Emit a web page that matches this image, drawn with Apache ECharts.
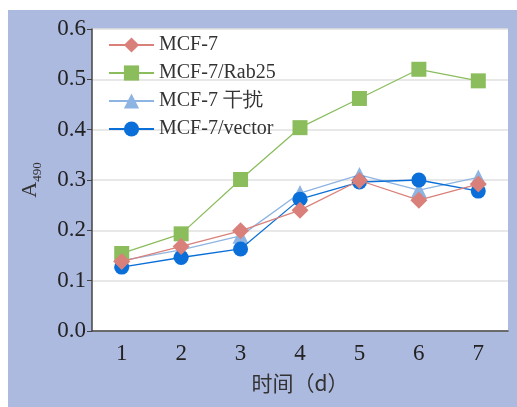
<!DOCTYPE html>
<html><head><meta charset="utf-8">
<script src="https://cdn.jsdelivr.net/npm/echarts@6/dist/echarts.min.js"></script>
<style>
html,body{margin:0;padding:0;background:#fff;width:517px;height:407px;overflow:hidden}
#c{position:absolute;left:8px;top:10px;width:509px;height:397px;background:#adbadf}
</style></head><body>
<div id="c"></div>
<script>
const categories = ['1','2','3','4','5','6','7'];
const yTicks = [0, 0.1, 0.2, 0.3, 0.4, 0.5, 0.6];
const seriesNames = ['MCF-7','MCF-7/Rab25','MCF-7 干扰','MCF-7/vector'];
const mcf7 = [0.138, 0.168, 0.199, 0.240, 0.299, 0.260, 0.292];
const rab25 = [0.154, 0.193, 0.301, 0.404, 0.462, 0.520, 0.497];
const interfere = [0.140, 0.161, 0.189, 0.274, 0.310, 0.280, 0.305];
const vector = [0.127, 0.146, 0.163, 0.262, 0.296, 0.300, 0.278];

const serif = '"Liberation Serif","Times New Roman",serif';
const colors = ['#d9807a','#8bbd5d','#8db4e2','#0a6fd8'];
const symbols = ['diamond','rect','triangle','circle'];
const sizes = [17,15,16,15];
const data = [mcf7, rab25, interfere, vector];

const chart = echarts.init(document.getElementById('c'));
chart.setOption({
  animation:false,
  textStyle:{fontFamily:serif},
  grid:{left:84,top:19,right:9,bottom:76,show:true,backgroundColor:'#fff',borderWidth:0},
  legend:{
    left:100, top:25, padding:0, orient:'vertical', itemGap:8,
    itemWidth:45, itemHeight:19,
    formatter: n => '{t|' + n + '}',
    textStyle:{fontFamily:serif,fontSize:20,color:'#333',
      rich:{t:{fontFamily:serif,fontSize:20,color:'#333'}}},
    data: seriesNames
  },
  xAxis:{
    type:'category', data:categories, boundaryGap:true,
    axisLine:{lineStyle:{color:'#444',width:1.5}},
    axisTick:{inside:true,length:7,lineStyle:{color:'#444'}},
    axisLabel:{fontFamily:serif,fontSize:23,color:'#222',margin:11},
    name:'时间（d）', nameLocation:'middle', nameGap:42,
    nameTextStyle:{fontFamily:'"Noto Sans CJK SC",serif',fontSize:21,color:'#333'}
  },
  yAxis:{
    type:'value', min:0, max:0.6, interval:0.1,
    axisLine:{show:true,lineStyle:{color:'#444',width:1.5}},
    axisTick:{show:true,length:5,lineStyle:{color:'#444'}},
    axisLabel:{fontFamily:serif,fontSize:23,color:'#222',margin:6,
      formatter:v=>v.toFixed(1)},
    splitLine:{show:true,lineStyle:{color:'#e0e0e0',width:1.5}},
    name:'{a|A}{s|490}', nameLocation:'middle', nameGap:48, nameRotate:90,
    nameTextStyle:{rich:{
      a:{fontFamily:serif,fontSize:22,color:'#333',verticalAlign:'bottom',padding:[0,0,3,0]},
      s:{fontFamily:serif,fontSize:13,color:'#333',verticalAlign:'bottom'}
    }}
  },
  series: seriesNames.map((n,i)=>({
    name:n, type:'line', data:data[i], symbol:symbols[i], symbolSize:sizes[i],
    showAllSymbol:true,
    itemStyle:{color:colors[i]}, lineStyle:{color:colors[i],width:1.3},
    z:[5,4,2,3][i]
  }))
});
</script></body></html>
